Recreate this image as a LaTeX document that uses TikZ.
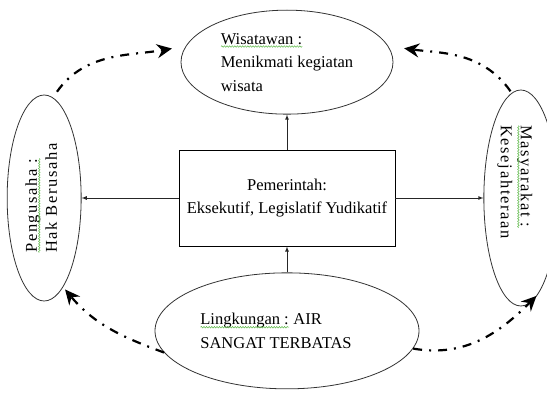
\documentclass[tikz,border=0pt]{standalone}
\usepackage{fontspec}
\setmainfont{Liberation Serif}
\newfontfamily\renggang[LetterSpace=10]{Liberation Serif}
\usepackage{tikz}
\usetikzlibrary{arrows,arrows.meta,shapes.geometric,positioning,decorations.pathmorphing}

\definecolor{ejaan}{RGB}{95,185,75}
\newcommand\huruf{\fontsize{16.5}{23.5}\selectfont}
\newcommand\hurufsisi{\renggang\fontsize{16.5}{20}\selectfont}
\newsavebox\kotakejaan
\newcommand\salah[1]{\sbox\kotakejaan{#1}\rlap{\usebox\kotakejaan}%
  \raisebox{-2.5pt}{\tikz[baseline=0pt]\draw[-,ejaan,line width=0.5pt,decorate,
    decoration={snake,amplitude=0.8pt,segment length=2.6pt}]
    (0pt,0pt) -- (\the\wd\kotakejaan,0pt);}}

\begin{document}
\begin{tikzpicture}[->,>=stealth',x=1pt,y=1pt]

  \tikzstyle{every node}=[font=\huruf,inner sep=0pt,text=black]
  \tikzstyle{oval}=[ellipse,draw=black!80,line width=0.8pt]
  \tikzstyle{kotak}=[rectangle,draw,line width=0.9pt,align=center,
                     minimum width=216pt,minimum height=96pt]
  \tikzstyle{tipis}=[-latex,line width=0.8pt,black!85]
  \tikzstyle{arus}=[-{Stealth[length=15pt,width=14pt,inset=5pt]},line width=2.2pt,
                    dash pattern=on 9pt off 7pt on 2pt off 7pt]

  \useasboundingbox (0,0) rectangle (547,394);

  \node[kotak] (PMR) at (287,196) {Pemerintah:\\Eksekutif, Legislatif Yudikatif};
  \node[oval,align=left,minimum width=212pt,minimum height=104pt]
       (WST) [above=35pt of PMR] {\salah{Wisatawan :}\\Menikmati kegiatan\\wisata};
  \node[oval,minimum width=264pt,minimum height=116pt,
        label={[xshift=-11pt,align=left]center:{\salah{Lingkungan :} AIR\\SANGAT TERBATAS}}]
       (LKG) [below=26pt of PMR] {};
  \node[oval,minimum width=74pt,minimum height=206pt,
        label={[xshift=-3pt,rotate=90,align=left,font=\hurufsisi]center:{\salah{Pengusaha :}\\Hak Berusaha}}]
       (PGS) [left=97pt of PMR] {};
  \node[oval,minimum width=74pt,minimum height=216pt,
        label={[xshift=-6pt,yshift=16pt,rotate=-90,align=left,font=\hurufsisi]center:{\salah{Masyarakat :}\\Kesejahteraan}}]
       (MSY) [right=88pt of PMR] {};

  \path
  (PMR) edge [tipis] (WST)
  (LKG) edge [tipis] (PMR)
  (PMR) edge [tipis] (PGS)
  (PMR) edge [tipis] (MSY)

  (PGS.85)  edge [arus,out=55,in=190,shorten <=7pt,shorten >=14pt]  (WST.171)
  (MSY.95)  edge [arus,out=125,in=-8,shorten <=2pt,shorten >=16pt]  (WST.9)
  (LKG.190) edge [arus,out=160,in=-50,shorten >=3pt]                (PGS.282)
  (LKG.352) edge [arus,out=-10,in=-135,shorten >=2pt]               (MSY.280)
  ;
\end{tikzpicture}
\end{document}
